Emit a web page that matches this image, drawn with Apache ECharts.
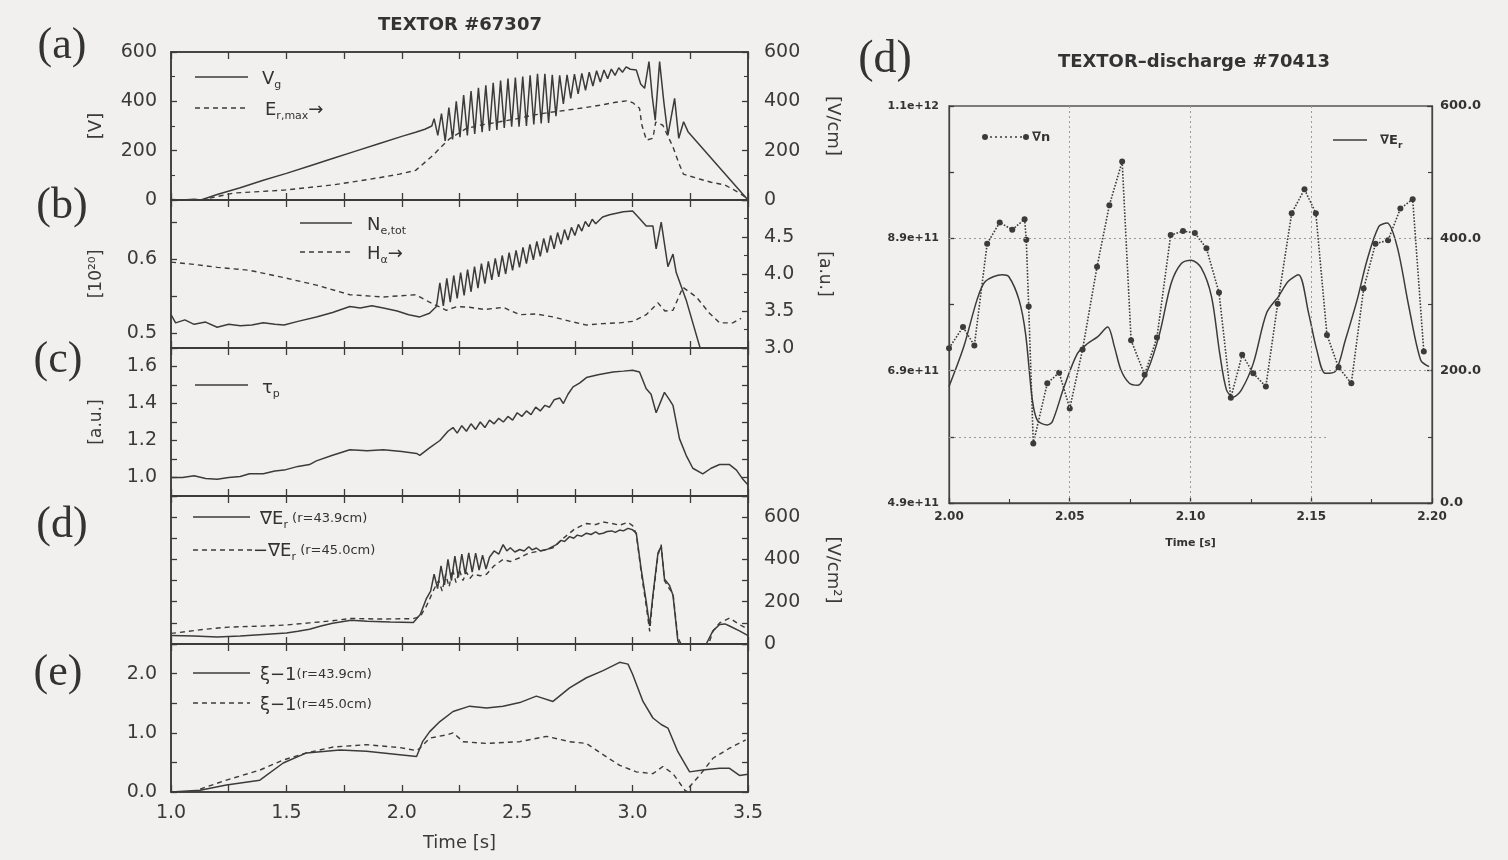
<!DOCTYPE html>
<html><head><meta charset="utf-8">
<script src="https://cdn.jsdelivr.net/npm/echarts@6/dist/echarts.min.js"></script>
<style>html,body{margin:0;padding:0;background:#f1f0ef;}#c{width:1508px;height:860px;}</style>
</head><body><div id="c"></div>
<script>
// ---------------- data (time [s], value) ----------------
const Vg = [[1.00,2],[1.05,0],[1.10,3],[1.13,0],[1.20,22],[1.30,50],[1.40,80],[1.50,108],[1.60,138],[1.70,168],[1.80,198],[1.90,228],[2.00,258],[2.06,275],[2.10,287],[2.13,300],
[2.140,330],[2.156,262],[2.172,350],[2.188,240],[2.204,375],[2.220,246],[2.236,400],[2.252,255],[2.268,425],[2.284,262],[2.300,442],[2.316,268],[2.332,455],[2.348,275],[2.364,465],[2.380,280],[2.396,475],[2.412,284],[2.428,484],[2.444,292],[2.460,492],[2.476,297],[2.492,496],[2.508,297],[2.524,500],[2.540,300],[2.556,506],[2.572,306],[2.588,512],[2.604,310],[2.620,512],[2.636,312],[2.652,508],[2.668,340],[2.684,505],[2.700,390],[2.716,507],[2.732,412],[2.748,510],[2.764,430],[2.780,513],[2.796,445],[2.812,518],[2.828,462],[2.844,524],[2.860,478],[2.876,527],[2.892,492],[2.908,531],[2.924,505],[2.940,536],[2.956,518],[2.972,540],[2.990,530],
[3.016,527],[3.035,470],[3.052,453],[3.071,561],[3.085,420],[3.098,324],[3.117,561],[3.135,400],[3.153,263],[3.182,412],[3.200,250],[3.221,317],[3.240,277],[3.500,0]];
const ErMax = [[1.13,0],[1.27,28],[1.49,40],[1.70,61],[1.90,90],[1.99,105],[2.06,120],[2.136,182],[2.17,215],[2.208,249],[2.28,290],[2.35,305],[2.424,317],[2.50,330],[2.567,344],[2.64,355],[2.713,364],[2.79,374],[2.857,384],[2.92,395],[2.973,402],[3.00,395],[3.03,372],[3.04,304],[3.06,243],[3.088,250],[3.10,316],[3.131,303],[3.175,215],[3.20,150],[3.22,105],[3.29,85],[3.34,72],[3.40,61],[3.46,30],[3.499,5]];
const NeTot = [[1.00,0.525],[1.02,0.514],[1.06,0.518],[1.10,0.512],[1.15,0.515],[1.20,0.508],[1.25,0.512],[1.30,0.510],[1.35,0.511],[1.40,0.514],[1.45,0.512],[1.49,0.511],[1.55,0.516],[1.63,0.522],[1.70,0.528],[1.775,0.536],[1.82,0.534],[1.87,0.537],[1.92,0.534],[1.98,0.530],[2.03,0.525],[2.078,0.522],[2.12,0.527],[2.15,0.536],
[2.165,0.568],[2.180,0.537],[2.195,0.574],[2.210,0.542],[2.225,0.578],[2.240,0.547],[2.255,0.582],[2.270,0.551],[2.285,0.586],[2.300,0.556],[2.315,0.590],[2.330,0.561],[2.345,0.594],[2.360,0.567],[2.375,0.597],[2.390,0.572],[2.405,0.601],[2.420,0.576],[2.435,0.605],[2.450,0.580],[2.465,0.609],[2.480,0.585],[2.495,0.612],[2.510,0.589],[2.525,0.616],[2.540,0.594],[2.555,0.620],[2.570,0.599],[2.585,0.624],[2.600,0.604],[2.615,0.628],[2.630,0.609],[2.645,0.632],[2.660,0.614],[2.675,0.636],[2.690,0.620],[2.705,0.640],[2.720,0.626],[2.735,0.643],[2.750,0.632],[2.765,0.647],[2.780,0.638],[2.795,0.651],[2.810,0.644],[2.825,0.654],[2.840,0.648],
[2.87,0.657],[2.90,0.660],[2.93,0.662],[2.96,0.664],[3.00,0.665],[3.03,0.655],[3.059,0.645],[3.088,0.645],[3.102,0.614],[3.124,0.650],[3.153,0.590],[3.175,0.607],[3.189,0.582],[3.232,0.545],[3.300,0.472]];
const Halpha = [[1.00,4.16],[1.10,4.13],[1.20,4.09],[1.34,4.05],[1.49,3.95],[1.63,3.85],[1.775,3.72],[1.92,3.69],[2.06,3.72],[2.078,3.69],[2.12,3.62],[2.193,3.51],[2.24,3.56],[2.294,3.55],[2.36,3.52],[2.439,3.55],[2.511,3.45],[2.58,3.46],[2.655,3.42],[2.73,3.36],[2.80,3.31],[2.87,3.33],[2.944,3.34],[3.00,3.36],[3.059,3.45],[3.11,3.61],[3.14,3.50],[3.175,3.51],[3.218,3.82],[3.276,3.69],[3.333,3.47],[3.377,3.34],[3.434,3.34],[3.47,3.40]];
const TauP = [[1.00,1.00],[1.05,1.00],[1.10,1.01],[1.15,0.995],[1.20,0.99],[1.25,1.00],[1.30,1.005],[1.34,1.02],[1.40,1.02],[1.45,1.035],[1.49,1.04],[1.55,1.06],[1.60,1.07],[1.63,1.09],[1.70,1.12],[1.775,1.15],[1.85,1.145],[1.92,1.15],[2.00,1.14],[2.064,1.13],[2.078,1.12],[2.12,1.16],[2.165,1.20],[2.20,1.25],[2.222,1.27],[2.24,1.24],[2.26,1.28],[2.28,1.25],[2.30,1.29],[2.32,1.26],[2.34,1.30],[2.36,1.27],[2.38,1.31],[2.40,1.29],[2.42,1.32],[2.44,1.30],[2.46,1.33],[2.48,1.31],[2.50,1.35],[2.52,1.33],[2.54,1.36],[2.56,1.34],[2.58,1.38],[2.60,1.36],[2.62,1.39],[2.64,1.38],[2.66,1.42],[2.684,1.43],[2.70,1.40],[2.72,1.45],[2.742,1.49],[2.77,1.51],[2.80,1.54],[2.85,1.555],[2.915,1.57],[2.96,1.575],[3.00,1.58],[3.03,1.57],[3.059,1.48],[3.08,1.45],[3.102,1.35],[3.138,1.46],[3.16,1.42],[3.175,1.39],[3.203,1.21],[3.232,1.12],[3.261,1.05],[3.304,1.02],[3.34,1.05],[3.377,1.07],[3.42,1.07],[3.45,1.04],[3.478,0.99],[3.50,0.96]];
const GradE439 = [[1.00,40],[1.10,38],[1.20,33],[1.30,38],[1.40,45],[1.50,52],[1.55,60],[1.60,70],[1.65,85],[1.70,98],[1.78,112],[1.85,108],[1.95,104],[2.05,102],[2.08,139],[2.107,216],[2.125,250],[2.14,330],[2.155,262],[2.17,370],[2.185,280],[2.20,400],[2.215,300],[2.23,416],[2.245,315],[2.26,425],[2.275,330],[2.29,431],[2.305,340],[2.32,430],[2.335,350],[2.35,420],[2.365,355],[2.38,410],[2.40,440],[2.42,425],[2.439,470],[2.455,440],[2.47,455],[2.49,435],[2.511,447],[2.53,440],[2.55,460],[2.565,445],[2.583,454],[2.60,440],[2.62,445],[2.635,450],[2.655,462],[2.67,470],[2.69,490],[2.705,485],[2.727,508],[2.745,500],[2.76,515],[2.78,510],[2.80,524],[2.82,518],[2.84,530],[2.855,520],[2.872,524],[2.89,532],[2.91,535],[2.925,528],[2.944,539],[2.96,535],[2.98,547],[3.00,540],[3.016,524],[3.037,354],[3.059,200],[3.074,85],[3.088,231],[3.11,431],[3.124,462],[3.138,308],[3.16,277],[3.175,231],[3.196,15],[3.203,0],[3.319,0],[3.348,62],[3.377,92],[3.40,95],[3.42,85],[3.463,62],[3.50,40]];
const GradE450 = [[1.00,50],[1.15,70],[1.25,80],[1.40,85],[1.50,90],[1.60,100],[1.70,110],[1.78,121],[1.90,118],[2.05,120],[2.08,130],[2.107,180],[2.14,260],[2.16,300],[2.175,250],[2.19,330],[2.205,270],[2.22,354],[2.235,290],[2.25,350],[2.265,300],[2.28,340],[2.295,310],[2.31,330],[2.34,323],[2.367,330],[2.40,370],[2.439,400],[2.47,390],[2.511,408],[2.55,430],[2.60,440],[2.655,455],[2.70,500],[2.75,545],[2.80,570],[2.84,565],[2.872,577],[2.91,570],[2.944,562],[2.98,575],[3.00,560],[3.016,520],[3.037,340],[3.059,180],[3.074,60],[3.088,220],[3.11,420],[3.124,470],[3.138,300],[3.16,260],[3.175,240],[3.196,31],[3.21,0],[3.33,0],[3.348,60],[3.377,100],[3.42,123],[3.463,92],[3.50,70]];
const Xi439 = [[1.00,0.00],[1.126,0.03],[1.24,0.12],[1.385,0.20],[1.486,0.49],[1.587,0.66],[1.732,0.71],[1.847,0.69],[1.991,0.63],[2.064,0.60],[2.09,0.85],[2.121,1.02],[2.165,1.19],[2.222,1.36],[2.294,1.45],[2.367,1.42],[2.439,1.45],[2.511,1.51],[2.583,1.62],[2.655,1.53],[2.727,1.76],[2.80,1.93],[2.872,2.05],[2.944,2.19],[2.98,2.16],[3.00,1.99],[3.045,1.53],[3.088,1.25],[3.124,1.14],[3.153,1.08],[3.196,0.68],[3.247,0.34],[3.304,0.37],[3.377,0.40],[3.42,0.40],[3.463,0.28],[3.50,0.30]];
const Xi450 = [[1.126,0.05],[1.24,0.20],[1.385,0.37],[1.486,0.54],[1.587,0.66],[1.703,0.76],[1.847,0.80],[1.991,0.75],[2.064,0.70],[2.078,0.74],[2.121,0.91],[2.20,0.97],[2.222,1.00],[2.266,0.85],[2.367,0.82],[2.511,0.85],[2.627,0.94],[2.727,0.85],[2.80,0.82],[2.872,0.63],[2.944,0.45],[3.016,0.34],[3.088,0.31],[3.131,0.43],[3.175,0.31],[3.232,0.00],[3.247,0.09],[3.29,0.28],[3.348,0.57],[3.42,0.74],[3.49,0.88]];
// right panel: TEXTOR discharge #70413 (gradient of n in units of 1e11, gradient of E_r in V/cm^2)
const GradN = [[2.000,7.24],[2.0058,7.56],[2.0105,7.28],[2.0158,8.82],[2.021,9.14],[2.0262,9.03],[2.0313,9.19],[2.032,8.88],[2.033,7.87],[2.0349,5.80],[2.0407,6.71],[2.0456,6.87],[2.050,6.33],[2.0553,7.22],[2.0613,8.47],[2.0664,9.40],[2.0717,10.06],[2.0754,7.36],[2.081,6.84],[2.0861,7.40],[2.0918,8.95],[2.0969,9.01],[2.1018,8.98],[2.1066,8.75],[2.1118,8.08],[2.1167,6.49],[2.1214,7.14],[2.126,6.86],[2.1312,6.66],[2.1361,7.91],[2.1419,9.28],[2.1472,9.64],[2.1519,9.28],[2.1565,7.44],[2.1613,6.95],[2.1666,6.71],[2.1717,8.14],[2.1766,8.82],[2.1818,8.87],[2.1869,9.35],[2.192,9.49],[2.1966,7.19]];
const GradEr = [[2.0,176],[2.0061,236],[2.0116,307],[2.0151,335],[2.022,345],[2.0248,342],[2.029,307],[2.0317,256],[2.0345,156],[2.0366,125],[2.0407,118],[2.0428,123],[2.0477,176],[2.0532,226],[2.0574,241],[2.0615,251],[2.0657,266],[2.0685,236],[2.0712,201],[2.0747,181],[2.0782,178],[2.0823,201],[2.0872,256],[2.092,332],[2.0962,362],[2.1003,367],[2.1045,355],[2.1087,312],[2.1121,226],[2.1149,171],[2.1177,160],[2.1211,171],[2.126,211],[2.1315,287],[2.1364,312],[2.1405,335],[2.1447,345],[2.1489,287],[2.1523,231],[2.1558,196],[2.16,199],[2.1641,246],[2.169,307],[2.1731,367],[2.178,418],[2.1814,423],[2.1856,387],[2.1904,297],[2.1953,216],[2.1988,206]];
const leftTimeTicks = [1.0,1.5,2.0,2.5,3.0,3.5];
const rightTimeTicks = [2.00,2.05,2.10,2.15,2.20];
const gradNTicks = [4.9,6.9,8.9,10.9];

// ---------------- layout / style ----------------
const INK = '#3b3b3b';
const FONT = 'DejaVu Sans';
const LEFT = 171, W = 577, H = 148, TOPS = [52,200,348,496,644];
const RG = {left:949, top:106, width:483, height:397};

const lineSt = {color:INK, width:1.5};
const tick = (len) => ({show:true, inside:true, length:len||6, lineStyle:{color:INK, width:1.3}});
const minor = (n) => ({show:true, splitNumber:n, length:4, lineStyle:{color:INK, width:1.1}});
const lab = (extra) => Object.assign({color:'#3a3a3a', fontFamily:FONT, fontSize:19}, extra||{});
const near = (a,b) => Math.abs(a-b) < 1e-6;

const grids = TOPS.map(t => ({left:LEFT, top:t, width:W, height:H, show:true, borderColor:INK, borderWidth:1.5, backgroundColor:'transparent'}));
grids.push(Object.assign({show:true, borderColor:'#555', borderWidth:1.3, backgroundColor:'transparent'}, RG));

const xAxes = [];
for (let i=0;i<5;i++) {
  xAxes.push({gridIndex:i, type:'value', min:1, max:3.5, interval:0.25, position:'bottom',
    axisLine:{show:true, onZero:false, lineStyle:lineSt}, axisTick:tick(7), splitLine:{show:false},
    axisLabel: lab({show:i===4, interval:0, margin:12,
      formatter: v => leftTimeTicks.some(t=>near(t,v)) ? v.toFixed(1) : ''}),
    name: i===4 ? 'Time [s]' : '', nameLocation:'middle', nameGap:42,
    nameTextStyle:{color:'#3a3a3a', fontFamily:FONT, fontSize:18}});
}
for (let i=0;i<5;i++) {
  xAxes.push({gridIndex:i, type:'value', min:1, max:3.5, interval:0.25, position:'top',
    axisLine:{show:true, onZero:false, lineStyle:lineSt}, axisTick:tick(7), axisLabel:{show:false}, splitLine:{show:false}});
}
xAxes.push({gridIndex:5, type:'value', min:2.0, max:2.2, interval:0.05, position:'bottom',
  axisLine:{show:true, onZero:false, lineStyle:{color:'#444', width:1.3}}, axisTick:tick(5), minorTick:minor(2), splitLine:{show:false},
  axisLabel:{color:'#333', fontFamily:FONT, fontWeight:'bold', fontSize:12, margin:8,
    formatter: v => rightTimeTicks.some(t=>near(t,v)) ? v.toFixed(2) : ''},
  name:'Time [s]', nameLocation:'middle', nameGap:35, nameTextStyle:{color:'#333', fontFamily:FONT, fontWeight:'bold', fontSize:11}});

const yAxes = [
  // panel a
  {gridIndex:0, min:0, max:600, interval:200, position:'left', axisLine:{show:true,lineStyle:lineSt}, axisTick:tick(6), minorTick:minor(2), splitLine:{show:false},
   axisLabel:lab({margin:14}), name:'[V]', nameLocation:'middle', nameGap:66, nameTextStyle:{color:'#3a3a3a', fontFamily:FONT, fontSize:18}},
  {gridIndex:0, min:0, max:600, interval:200, position:'right', axisLine:{show:true,lineStyle:lineSt}, axisTick:tick(6), minorTick:minor(2), splitLine:{show:false},
   axisLabel:lab({margin:16}), name:'[V/cm]', nameLocation:'middle', nameRotate:-90, nameGap:76, nameTextStyle:{color:'#3a3a3a', fontFamily:FONT, fontSize:18}},
  // panel b
  {gridIndex:1, min:0.48, max:0.68, position:'left', axisLine:{show:true,lineStyle:lineSt},
   axisTick:Object.assign(tick(6), {customValues:[0.5,0.55,0.6,0.65]}), splitLine:{show:false},
   axisLabel:lab({margin:14, customValues:[0.5,0.6], formatter: v => v.toFixed(1)}),
   name:'[10²⁰]', nameLocation:'middle', nameGap:66, nameTextStyle:{color:'#3a3a3a', fontFamily:FONT, fontSize:17}},
  {gridIndex:1, min:3.0, max:5.0, interval:0.5, position:'right', axisLine:{show:true,lineStyle:lineSt}, axisTick:tick(6), minorTick:minor(2), splitLine:{show:false},
   axisLabel:lab({margin:16, formatter: v => v > 4.9 ? '' : v.toFixed(1)}), name:'[a.u.]', nameLocation:'middle', nameRotate:-90, nameGap:68, nameTextStyle:{color:'#3a3a3a', fontFamily:FONT, fontSize:17}},
  // panel c
  {gridIndex:2, min:0.9, max:1.7, interval:0.1, position:'left', axisLine:{show:true,lineStyle:lineSt}, axisTick:tick(6), splitLine:{show:false},
   axisLabel:lab({margin:14, formatter: v => (Math.round(v*10) % 2 === 0) ? v.toFixed(1) : ''}),
   name:'[a.u.]', nameLocation:'middle', nameGap:66, nameTextStyle:{color:'#3a3a3a', fontFamily:FONT, fontSize:17}},
  {gridIndex:2, min:0.9, max:1.7, interval:0.1, position:'right', axisLine:{show:true,lineStyle:lineSt}, axisTick:tick(6), axisLabel:{show:false}, splitLine:{show:false}},
  // panel d
  {gridIndex:3, min:0, max:700, interval:100, position:'left', axisLine:{show:true,lineStyle:lineSt}, axisTick:tick(6), axisLabel:{show:false}, splitLine:{show:false}},
  {gridIndex:3, min:0, max:700, interval:100, position:'right', axisLine:{show:true,lineStyle:lineSt}, axisTick:tick(6), splitLine:{show:false},
   axisLabel:lab({margin:16, formatter: v => (Math.round(v) % 200 === 0) ? String(Math.round(v)) : ''}),
   name:'[V/cm²]', nameLocation:'middle', nameRotate:-90, nameGap:76, nameTextStyle:{color:'#3a3a3a', fontFamily:FONT, fontSize:18}},
  // panel e
  {gridIndex:4, min:0, max:2.5, interval:0.5, position:'left', axisLine:{show:true,lineStyle:lineSt}, axisTick:tick(6), splitLine:{show:false},
   axisLabel:lab({margin:14, formatter: v => near(v, Math.round(v)) ? v.toFixed(1) : ''})},
  {gridIndex:4, min:0, max:2.5, interval:0.5, position:'right', axisLine:{show:true,lineStyle:lineSt}, axisTick:tick(6), axisLabel:{show:false}, splitLine:{show:false}},
  // right panel
  {gridIndex:5, min:4.9, max:10.9, position:'left', axisLine:{show:true,lineStyle:{color:'#444',width:1.3}},
   axisTick:Object.assign(tick(5), {customValues:[4.9,5.9,6.9,7.9,8.9,9.9,10.9]}), splitLine:{show:false},
   axisLabel:{customValues:gradNTicks, color:'#333', fontFamily:FONT, fontWeight:'bold', fontSize:11, margin:10,
     formatter: v => (v*1e11).toExponential(1)}},
  {gridIndex:5, min:0, max:600, interval:200, position:'right', axisLine:{show:true,lineStyle:{color:'#444',width:1.3}}, axisTick:tick(5), minorTick:minor(2), splitLine:{show:false},
   axisLabel:{color:'#333', fontFamily:FONT, fontWeight:'bold', fontSize:13, margin:8, formatter: v => v.toFixed(1)}}
];
yAxes.forEach(a => a.type = 'value');
xAxes.forEach(a => a.type = 'value');

const solid = {color:INK, width:1.5, type:'solid'};
const dashed = {color:INK, width:1.4, type:[5,4]};
function ser(data, xi, yi, ls, extra) {
  return Object.assign({type:'line', data, xAxisIndex:xi, yAxisIndex:yi, showSymbol:false, symbol:'none',
    lineStyle:ls, itemStyle:{color:INK}, animation:false, silent:true, clip:true}, extra||{});
}

const gridMark = {
  silent:true, symbol:'none', label:{show:false},
  lineStyle:{color:'#9a9a9a', width:1, type:[2,3]},
  data:[{xAxis:2.05},{xAxis:2.10},{xAxis:2.15},{yAxis:8.9},{yAxis:6.9},
        [{coord:[2.0,5.9]},{coord:[2.157,5.9]}]]
};

const series = [
  ser(Vg, 0, 0, solid),
  ser(ErMax, 0, 1, dashed),
  ser(NeTot, 1, 2, solid),
  ser(Halpha, 1, 3, dashed),
  ser(TauP, 2, 4, solid),
  ser(GradE439, 3, 7, solid),
  ser(GradE450, 3, 7, dashed),
  ser(Xi439, 4, 8, solid),
  ser(Xi450, 4, 8, dashed),
  ser(GradN, 10, 10, {color:INK, width:1.6, type:'dotted'}, {showSymbol:true, symbol:'circle', symbolSize:6, markLine:gridMark}),
  ser(GradEr, 10, 11, {color:INK, width:1.5}, {smooth:0.3})
];

// legends & annotations
const T = (x,y,text,opt) => ({type:'text', x, y, silent:true, style:Object.assign({text, fill:'#333', fontFamily:FONT, fontSize:18, align:'left', verticalAlign:'middle'}, opt||{})});
const L = (x1,x2,y,dash,w) => ({type:'line', silent:true, shape:{x1, y1:y, x2, y2:y}, style:{stroke:INK, lineWidth:w||1.5, lineDash:dash||null}});
const C = (x,y) => ({type:'circle', silent:true, shape:{cx:x, cy:y, r:3}, style:{fill:INK}});
const rich = {
  m:{fontFamily:FONT, fontSize:18, lineHeight:24, fill:'#333'},
  s:{fontFamily:FONT, fontSize:11, lineHeight:12, verticalAlign:'bottom', fill:'#333'},
  t:{fontFamily:FONT, fontSize:13, lineHeight:24, fill:'#333'},
  b:{fontFamily:FONT, fontSize:13, fontWeight:'bold', lineHeight:18, fill:'#333'},
  bs:{fontFamily:FONT, fontSize:9, fontWeight:'bold', lineHeight:9, verticalAlign:'bottom', fill:'#333'}
};
const R = (x,y,text) => T(x,y,text,{rich});
const DASH = [5,4];
const serif = {fontFamily:'Liberation Serif', fontSize:44, fill:'#333', align:'center'};

const graphic = [
  T(460,25,'TEXTOR #67307',{fontSize:18, fontWeight:'bold', align:'center'}),
  T(62,46,'(a)',serif), T(62,206,'(b)',serif), T(58,360,'(c)',serif), T(62,525,'(d)',serif), T(58,673,'(e)',serif),
  L(195,248,77), R(262,79,'{m|V}{s|g}'),
  L(195,248,108,DASH), R(265,110,'{m|E}{s|r,max}{m|→}'),
  L(300,352,223), R(367,225,'{m|N}{s|e,tot}'),
  L(300,352,252,DASH), R(367,254,'{m|H}{s|α}{m|→}'),
  L(195,248,385), R(262,388,'{m|τ}{s|p}'),
  L(193,250,517), R(260,519,'{m|∇E}{s|r}{t| (r=43.9cm)}'),
  L(193,253,550,DASH), R(253,551,'{m|−∇E}{s|r}{t| (r=45.0cm)}'),
  L(193,250,673), R(260,675,'{m|ξ−1}{t|(r=43.9cm)}'),
  L(193,250,703,DASH), R(260,705,'{m|ξ−1}{t|(r=45.0cm)}'),
  // right panel
  T(885,60,'(d)',Object.assign({}, serif, {fontSize:46})),
  T(1194,62,'TEXTOR–discharge #70413',{fontSize:18, fontWeight:'bold', align:'center'}),
  {type:'line', silent:true, shape:{x1:985,y1:137,x2:1026,y2:137}, style:{stroke:INK, lineWidth:1.5, lineDash:[2,3]}},
  C(985,137), C(1026,137), R(1032,138,'{b|∇n}'),
  L(1333,1367,140,null,1.4), R(1380,141,'{b|∇E}{bs|r}')
];

const chart = echarts.init(document.getElementById('c'), null, {renderer:'canvas'});
chart.setOption({
  backgroundColor:'#f1f0ef',
  animation:false,
  grid:grids, xAxis:xAxes, yAxis:yAxes, series, graphic
});
</script></body></html>
